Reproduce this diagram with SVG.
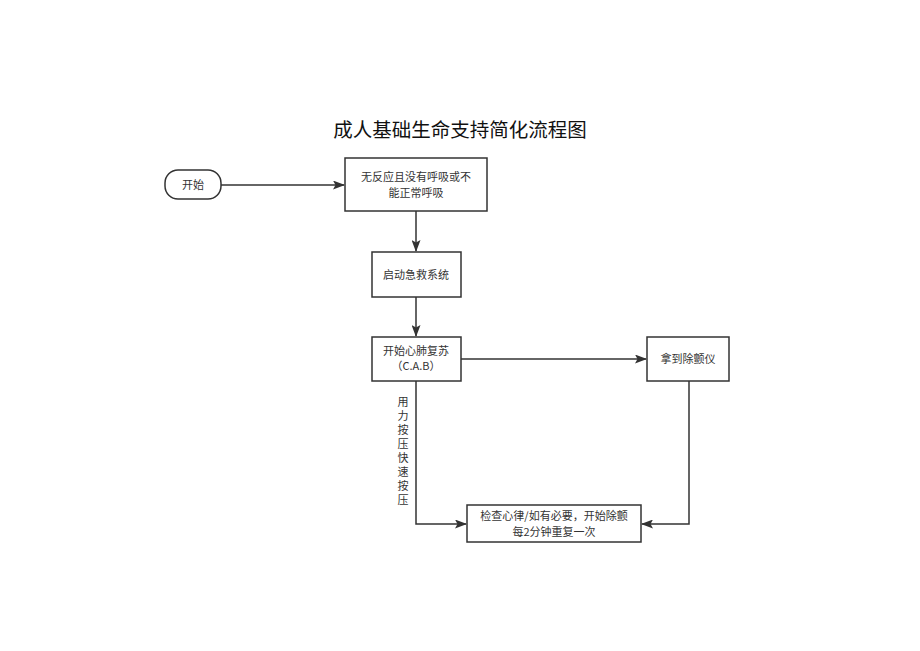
<svg xmlns="http://www.w3.org/2000/svg" width="920" height="651" viewBox="0 0 920 651">
<defs>
<marker id="ah" markerWidth="12" markerHeight="9" refX="11" refY="4.5" orient="auto" markerUnits="userSpaceOnUse">
<path d="M0,0 L12,4.5 L0,9 L2.5,4.5 Z" fill="#333"/>
</marker>
<style>
.box{fill:#fff;stroke:#333;stroke-width:1.5}
.t{font-family:"Noto Sans CJK SC","Liberation Sans",sans-serif;font-size:11px;fill:#333;text-anchor:middle}
.title{font-family:"Noto Sans CJK SC","Liberation Sans",sans-serif;font-size:19.5px;fill:#111;text-anchor:middle}
.c{fill:none;stroke:#333;stroke-width:1.5;marker-end:url(#ah)}
.v{font-family:"Noto Sans CJK SC","Liberation Sans",sans-serif;font-size:11px;fill:#333;writing-mode:vertical-rl;letter-spacing:3px}
</style>
</defs>
<rect width="920" height="651" fill="#fff"/>
<text class="title" x="460" y="137">成人基础生命支持简化流程图</text>
<g id="connectors">
<path class="c" d="M221,185 L344,185"/>
<path class="c" d="M416,211 L416,251"/>
<path class="c" d="M416,297 L416,336"/>
<path class="c" d="M461,359 L646,359"/>
<path class="c" d="M416,381 L416,524 L466,524"/>
<path class="c" d="M689,381 L689,524 L642,524"/>
</g>
<g id="start">
<rect class="box" x="165" y="170" width="56" height="29" rx="13"/>
<text class="t" x="193" y="189">开始</text>
</g>
<g id="n1">
<rect class="box" x="345" y="158" width="142" height="53"/>
<text class="t" x="416" y="181">无反应且没有呼吸或不<tspan x="416" dy="16">能正常呼吸</tspan></text>
</g>
<g id="n2">
<rect class="box" x="372" y="252" width="89" height="45"/>
<text class="t" x="416" y="279">启动急救系统</text>
</g>
<g id="n3">
<rect class="box" x="372" y="337" width="89" height="44"/>
<text class="t" x="416" y="355">开始心肺复苏<tspan x="416" dy="15">（C.A.B）</tspan></text>
</g>
<g id="n4">
<rect class="box" x="647" y="337" width="82" height="44"/>
<text class="t" x="688" y="363">拿到除颤仪</text>
</g>
<g id="n5">
<rect class="box" x="467" y="505" width="174" height="37"/>
<text class="t" x="554" y="520">检查心律/如有必要，开始除颤<tspan x="554" dy="16">每2分钟重复一次</tspan></text>
</g>
<g id="label">
<text class="v" x="403" y="396">用力按压快速按压</text>
</g>
</svg>
